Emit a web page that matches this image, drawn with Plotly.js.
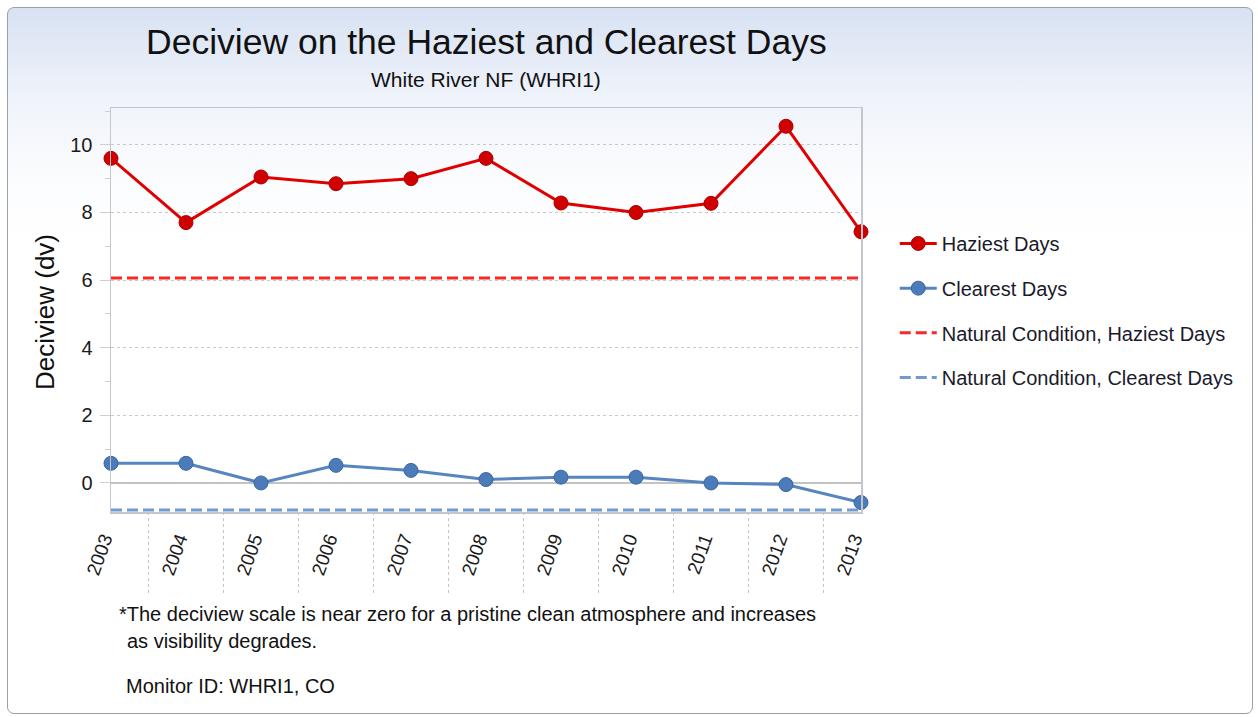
<!DOCTYPE html>
<html>
<head>
<meta charset="utf-8">
<script src="https://cdn.plot.ly/plotly-3.0.1.min.js"></script>
<style>
  html, body { margin:0; padding:0; width:1258px; height:717px; overflow:hidden; background:#ffffff; }
  #panel { position:absolute; left:7px; top:7px; width:1244px; height:705px; border:1px solid #9aa0a8; border-radius:7px;
           background:linear-gradient(to bottom, #d8e2f3 0%, #eef2fa 12%, #fbfcfe 24%, #ffffff 34%, #ffffff 100%); }
  #chart { position:absolute; left:0; top:0; width:1258px; height:717px; }
</style>
</head>
<body>
<div id="panel"></div>
<div id="chart"></div>
<script>
const years = [2003, 2004, 2005, 2006, 2007, 2008, 2009, 2010, 2011, 2012, 2013];
const haziest = [9.6, 7.7, 9.05, 8.85, 9.0, 9.6, 8.28, 8.0, 8.27, 10.55, 7.43];
const clearest = [0.58, 0.58, 0.0, 0.52, 0.37, 0.1, 0.17, 0.17, 0.0, -0.05, -0.58];
const naturalHaziest = years.map(() => 6.06);
const naturalClearest = years.map(() => -0.8);
const yTicks = [0, 2, 4, 6, 8, 10];

const FONT = '"Liberation Sans", Arial, sans-serif';

const traces = [
  { x: years, y: haziest, name: 'Haziest Days', type: 'scatter', mode: 'lines+markers', legendgroup: 'a',
    line: { color: '#e00000', width: 3 }, marker: { color: '#d00000', size: 14, line: { color: '#a80000', width: 1 } }, cliponaxis: false },
  { x: years, y: clearest, name: 'Clearest Days', type: 'scatter', mode: 'lines+markers', legendgroup: 'b',
    line: { color: '#5685c0', width: 3 }, marker: { color: '#4b7bb8', size: 14, line: { color: '#3a67a3', width: 1 } }, cliponaxis: false },
  { x: years, y: naturalHaziest, name: 'Natural Condition, Haziest Days', type: 'scatter', mode: 'lines', legendgroup: 'c',
    line: { color: '#f42a2a', width: 3, dash: '11px,5px' } },
  { x: years, y: naturalClearest, name: 'Natural Condition, Clearest Days', type: 'scatter', mode: 'lines', legendgroup: 'd',
    line: { color: '#6f9bd2', width: 3, dash: '11px,5px' }, cliponaxis: false }
];

const shapes = years.slice(0, -1).map(y => ({
  type: 'line', xref: 'x', yref: 'paper', x0: y + 0.5, x1: y + 0.5, y0: 0, y1: -0.205,
  line: { color: '#c4c4c4', width: 1, dash: 'dot' }
}));

const layout = {
  width: 1258, height: 717,
  margin: { l: 111, r: 397, t: 108, b: 205 },
  paper_bgcolor: 'rgba(0,0,0,0)', plot_bgcolor: 'rgba(0,0,0,0)',
  font: { family: FONT, color: '#1a1a1a' },
  showlegend: true,
  legend: { x: 1.045, y: 0.713, xanchor: 'left', yanchor: 'top', traceorder: 'grouped', tracegroupgap: 15.7, itemwidth: 37,
            font: { size: 20, family: FONT, color: '#1a1a2a' }, bgcolor: 'rgba(0,0,0,0)' },
  xaxis: {
    range: [2003, 2013], tickvals: years, ticktext: years.map(String), tickangle: -70,
    tickfont: { size: 19, family: FONT, color: '#1a1a1a' }, ticklabelshift: -7, ticklabelstandoff: 7,
    showgrid: false, zeroline: false, showline: true, mirror: true, linecolor: '#c3c7cd', linewidth: 1.5,
    ticks: '', fixedrange: true
  },
  yaxis: {
    range: [-0.86, 11.09], tickvals: yTicks, ticktext: yTicks.map(String),
    tickfont: { size: 20, family: FONT, color: '#1a1a1a' }, ticklabelstandoff: 3,
    showgrid: true, gridcolor: '#c8c8c8', griddash: 'dot', gridwidth: 1,
    zeroline: true, zerolinecolor: '#c3c3c3', zerolinewidth: 1.5,
    showline: true, mirror: true, linecolor: '#c3c7cd', linewidth: 1.5,
    ticks: 'outside', ticklen: 10, tickcolor: '#cfcfcf', tickwidth: 1,
    minor: { dtick: 1, tick0: 1, ticks: 'outside', ticklen: 5, tickcolor: '#cfcfcf', showgrid: false },
    fixedrange: true
  },
  shapes: shapes,
  annotations: [
    { text: 'Deciview on the Haziest and Clearest Days', xref: 'paper', yref: 'paper', x: 0.5, y: (512 - 42) / 404,
      xanchor: 'center', yanchor: 'middle', showarrow: false, font: { size: 35.5, family: FONT, color: '#111' } },
    { text: 'White River NF (WHRI1)', xref: 'paper', yref: 'paper', x: 0.5, y: (512 - 80) / 404,
      xanchor: 'center', yanchor: 'middle', showarrow: false, font: { size: 21, family: FONT, color: '#111' } },
    { text: 'Deciview (dv)', xref: 'paper', yref: 'paper', x: (45 - 111) / 750, y: (512 - 312) / 404, textangle: -90,
      xanchor: 'center', yanchor: 'middle', showarrow: false, font: { size: 26, family: FONT, color: '#111' } },
    { text: '*The deciview scale is near zero for a pristine clean atmosphere and increases', xref: 'paper', yref: 'paper',
      x: (117 - 111) / 750, y: (512 - 614) / 404, xanchor: 'left', yanchor: 'middle', showarrow: false,
      font: { size: 20, family: FONT, color: '#111' } },
    { text: 'as visibility degrades.', xref: 'paper', yref: 'paper',
      x: (125 - 111) / 750, y: (512 - 641) / 404, xanchor: 'left', yanchor: 'middle', showarrow: false,
      font: { size: 20, family: FONT, color: '#111' } },
    { text: 'Monitor ID: WHRI1, CO', xref: 'paper', yref: 'paper',
      x: (124 - 111) / 750, y: (512 - 686) / 404, xanchor: 'left', yanchor: 'middle', showarrow: false,
      font: { size: 20, family: FONT, color: '#111' } }
  ]
};

Plotly.newPlot('chart', traces, layout, { displayModeBar: false, staticPlot: true });
</script>
</body>
</html>
